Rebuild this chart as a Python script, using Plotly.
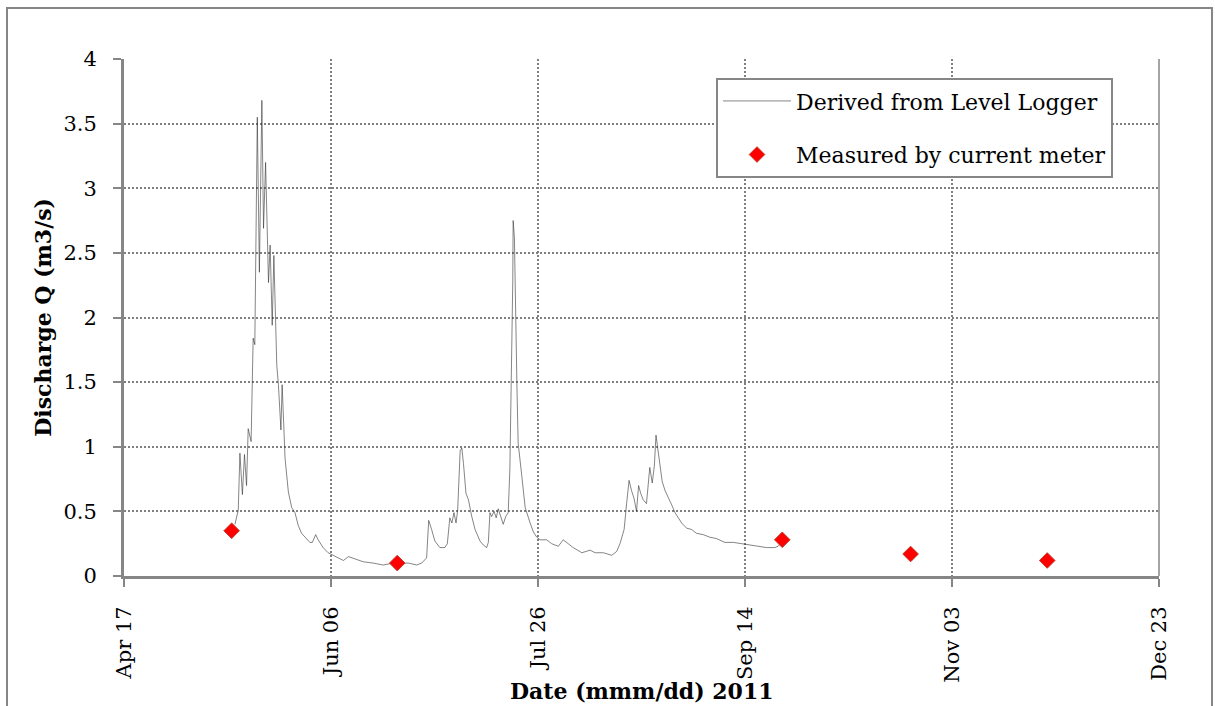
import pandas as pd
import plotly.graph_objects as go

START = pd.Timestamp("2011-04-17")

# Level-logger derived discharge: day offset from Apr 17 2011, value (m3/s)
logger_day = [26.8, 27.2, 27.6, 28.0, 28.6, 29.1, 29.6, 30.0, 30.7, 31.2, 31.6, 32.2, 32.7, 33.3,
              33.7, 34.2, 34.9, 35.3, 35.8, 36.2, 36.9, 37.3, 37.9, 38.2, 38.9, 39.7, 40.5, 41.3,
              42.1, 42.9, 44.1, 44.9, 45.5, 46.3, 46.9, 48.1, 49.3, 51.0, 53.0, 54.2, 55.8, 57.8,
              60.2, 62.6, 65.0, 68.7, 70.7, 71.9, 73.1, 73.6, 74.3, 75.1, 76.3, 77.5, 78.1, 78.7,
              79.2, 79.7, 80.2, 80.6, 81.2, 81.6, 82.0, 82.6, 83.2, 84.0, 84.8, 86.0, 86.8, 87.6,
              88.0, 88.4, 88.8, 89.4, 89.9, 90.4, 91.0, 91.6, 92.2, 92.8, 93.2, 93.6, 93.9, 94.0,
              94.3, 94.9, 95.2, 96.1, 96.9, 98.1, 98.9, 99.7, 100.5, 102.1, 103.3, 104.9, 106.1,
              107.3, 108.5, 110.6, 112.6, 113.8, 115.8, 117.8, 119.0, 119.8, 120.8, 121.4, 122.0,
              122.6, 123.2, 123.8, 124.3, 124.8, 125.4, 126.2, 127.0, 127.6, 128.1, 128.5, 128.8,
              129.5, 130.0, 130.7, 131.5, 132.3, 133.1, 133.9, 134.7, 135.9, 137.1, 138.3, 139.9,
              141.5, 143.1, 145.1, 147.2, 149.2, 151.2, 153.2, 155.2, 157.2, 158.0, 158.8]
logger_q = [0.40, 0.47, 0.51, 0.95, 0.63, 0.94, 0.70, 1.14, 1.04, 1.84, 1.79, 3.55, 2.35, 3.68,
            2.69, 3.20, 2.27, 2.56, 1.94, 2.48, 1.63, 1.48, 1.13, 1.48, 0.91, 0.65, 0.53, 0.49,
            0.39, 0.33, 0.29, 0.26, 0.26, 0.32, 0.28, 0.22, 0.18, 0.15, 0.12, 0.15, 0.13, 0.11,
            0.10, 0.085, 0.10, 0.10, 0.085, 0.10, 0.14, 0.43, 0.36, 0.27, 0.22, 0.22, 0.25, 0.45,
            0.41, 0.49, 0.41, 0.51, 0.97, 0.99, 0.87, 0.64, 0.59, 0.46, 0.36, 0.27, 0.24, 0.22,
            0.26, 0.49, 0.46, 0.50, 0.45, 0.52, 0.46, 0.40, 0.46, 0.49, 0.82, 1.49, 2.27, 2.75,
            2.62, 1.49, 1.03, 0.77, 0.53, 0.41, 0.34, 0.30, 0.28, 0.28, 0.25, 0.23, 0.28,
            0.25, 0.22, 0.18, 0.20, 0.18, 0.18, 0.16, 0.19, 0.25, 0.36, 0.56, 0.74,
            0.66, 0.60, 0.50, 0.70, 0.64, 0.59, 0.56, 0.84, 0.72, 0.85, 1.09, 1.01,
            0.84, 0.73, 0.66, 0.61, 0.55, 0.49, 0.45, 0.41, 0.37, 0.36, 0.33, 0.32,
            0.30, 0.29, 0.26, 0.26, 0.25, 0.24, 0.23, 0.22, 0.22, 0.23, 0.26]

# Current-meter measurements
meter_dates = ["2011-05-13", "2011-06-22", "2011-09-23", "2011-10-24", "2011-11-26"]
meter_q = [0.35, 0.10, 0.28, 0.17, 0.12]

tick_dates = ["2011-04-17", "2011-06-06", "2011-07-26", "2011-09-14", "2011-11-03", "2011-12-23"]
tick_text = ["Apr 17", "Jun 06", "Jul 26", "Sep 14", "Nov 03", "Dec 23"]
y_ticks = [0, 0.5, 1, 1.5, 2, 2.5, 3, 3.5, 4]
y_text = ["0", "0.5", "1", "1.5", "2", "2.5", "3", "3.5", "4"]

logger_x = [START + pd.Timedelta(days=d) for d in logger_day]

FONT = "DejaVu Serif"
GRAY = "#868686"
FS_TICK = 21
FS_TEXT = 22

fig = go.Figure()
fig.add_trace(go.Scatter(
    x=logger_x, y=logger_q, mode="lines", name="Derived from Level Logger",
    line=dict(color="#333333", width=0.6), legendgroup="a"))
fig.add_trace(go.Scatter(
    x=pd.to_datetime(meter_dates), y=meter_q, mode="markers", name="Measured by current meter",
    marker=dict(symbol="diamond", size=12, color="#ff0000", line=dict(color="#c0392b", width=1)),
    legendgroup="b"))

grid = dict(showgrid=True, gridcolor="#7f7f7f", griddash="2px,2px", gridwidth=1.5)

fig.update_layout(
    width=1215, height=706,
    margin=dict(l=124, r=56, t=59, b=130),
    paper_bgcolor="white", plot_bgcolor="white",
    font=dict(family=FONT, size=FS_TICK, color="black"),
    showlegend=True,
    legend=dict(x=0.572, y=0.963, xanchor="left", yanchor="top",
                bordercolor=GRAY, borderwidth=2, bgcolor="white",
                font=dict(family=FONT, size=FS_TEXT), tracegroupgap=22, itemwidth=68,
                entrywidth=330),
    xaxis=dict(type="date", range=["2011-04-17", "2011-12-23"],
               tickmode="array", tickvals=pd.to_datetime(tick_dates), ticktext=tick_text,
               tickangle=-90, ticks="outside", ticklen=8, tickwidth=2, tickcolor=GRAY,
               showline=True, linecolor=GRAY, linewidth=3,
               zeroline=False, ticklabelstandoff=11,
               tickfont=dict(family=FONT, size=FS_TICK), **grid),
    yaxis=dict(range=[0, 4], tickmode="array", tickvals=y_ticks, ticktext=y_text,
               ticks="outside", ticklen=8, tickwidth=2, tickcolor=GRAY,
               showline=True, linecolor=GRAY, linewidth=3,
               zeroline=False, ticklabelstandoff=12,
               tickfont=dict(family=FONT, size=FS_TICK), **grid),
    annotations=[
        dict(text="<b>Discharge Q (m3/s)</b>", xref="paper", yref="paper", x=-0.079, y=0.5,
             xanchor="center", yanchor="middle", textangle=-90, showarrow=False,
             font=dict(family=FONT, size=FS_TEXT)),
        dict(text="<b>Date (mmm/dd) 2011</b>", xref="paper", yref="paper", x=0.5, y=-0.222,
             xanchor="center", yanchor="middle", showarrow=False,
             font=dict(family=FONT, size=FS_TEXT)),
    ],
    shapes=[
        dict(type="line", xref="paper", yref="paper", x0=1, x1=1, y0=0, y1=1,
             line=dict(color=GRAY, width=1.5)),
        dict(type="rect", xref="paper", yref="paper",
             x0=-117 / 1035, x1=1 + 53 / 1035, y0=-140 / 517, y1=1 + 51 / 517,
             line=dict(color=GRAY, width=2), layer="below"),
    ],
)

fig.write_html("out.html")
